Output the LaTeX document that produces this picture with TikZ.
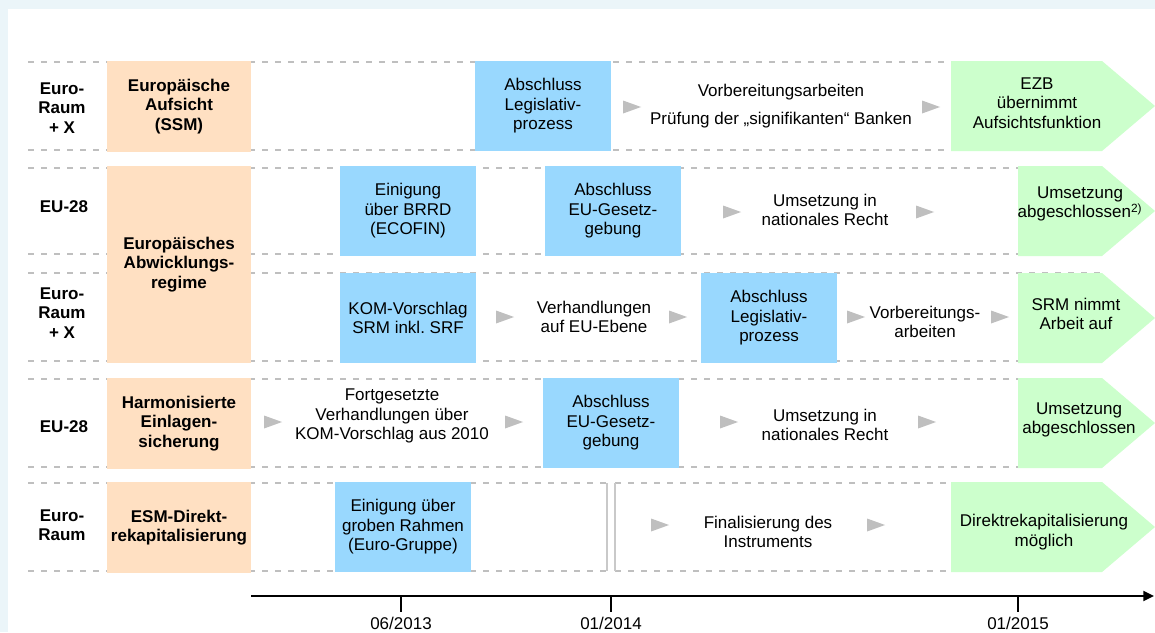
\documentclass[tikz,border=0pt]{standalone}
\usepackage{fontspec}
\setmainfont{Liberation Sans}
\usepackage{tikz}
\usepackage{xcolor}
\usetikzlibrary{positioning, arrows.meta, calc}
\definecolor{mGray}{HTML}{BFBFBF}
\definecolor{mOrange}{HTML}{FFE0C2}
\definecolor{mBlue}{HTML}{99D8FE}
\definecolor{mGreen}{HTML}{CCFFCC}
\definecolor{mFrame}{HTML}{EBF5F9}
\frenchspacing

\begin{document}
\begin{tikzpicture}[x=0.75pt, y=-0.75pt,
    every node/.style={font=\fontsize{12.75}{14.6}\selectfont, align=center, inner sep=0pt},
    rowlbl/.style={font=\fontsize{12.75}{14.6}\selectfont\bfseries},
    topic/.style={fill=mOrange, minimum width=108pt, font=\fontsize{12.75}{14.6}\selectfont\bfseries},
    milestone/.style={fill=mBlue, minimum width=102pt, minimum height=67.5pt},
    rowsep/.style={mGray, line width=1.5pt, dash pattern=on 4.5pt off 5.25pt},
    goal/.style={fill=mGreen}]
    \fill[mFrame] (0,0) rectangle (1155,632);
    \fill[white] (8,9) rectangle (1155,632);
    \useasboundingbox (0,0) rectangle (1155,632);

    \foreach \y in {62,150,168,254,273,361,379,467}
      \draw[rowsep] (28,\y) -- (1102,\y);
    \foreach \y in {483,571} {
      \draw[rowsep] (28,\y) -- (607,\y);
      \draw[rowsep] (615,\y) -- (960,\y);
    }
    \draw[mGray!85, line width=1.2pt] (607,483) -- (607,571);
    \draw[mGray!85, line width=1.2pt] (615,483) -- (615,571);

    \foreach \x/\yt/\yb in {951/61/151, 1018/166/256, 1018/273/363, 1018/378/468, 951/482/572}
      \fill[goal] (\x,\yt) -- (1102,\yt) -- (1155,{(\yt+\yb)/2}) -- (1102,\yb) -- (\x,\yb) -- cycle;

    \node[rowlbl] (r1) at (62,108) {Euro-\\Raum\\+ X};
    \node[rowlbl] (r2) at (64,207) {EU-28};
    \node[rowlbl] (r3) at (62,313) {Euro-\\Raum\\+ X};
    \node[rowlbl] (r4) at (64,427) {EU-28};
    \node[rowlbl] (r5) at (62,525) {Euro-\\Raum};

    \node[topic, minimum height=68.25pt] (ssm) at (179,106.5) {Europäische\\Aufsicht\\(SSM)};
    \node[topic, minimum height=147.75pt] (srm) at (179,264.5) {Europäisches\\Abwicklungs-\\regime};
    \node[topic, minimum height=68.25pt] (dgs) at (179,423.5) {Harmonisierte\\Einlagen-\\sicherung};
    \node[topic, minimum height=68.25pt] (esm) at (179,527.5) {ESM-Direkt-\\rekapitalisierung};

    \node[milestone] (ssmLeg) at (543,106) {Abschluss\\Legislativ-\\prozess};
    \node[milestone] (brrd) at (408,211) {Einigung\\über BRRD\\(ECOFIN)};
    \node[milestone] (brrdEU) at (613,211) {Abschluss\\EU-Gesetz-\\gebung};
    \node[milestone] (kom) at (408,318) {KOM-Vorschlag\\SRM inkl. SRF};
    \node[milestone] (srmLeg) at (769,318) {Abschluss\\Legislativ-\\prozess};
    \node[milestone] (dgsEU) at (611,423) {Abschluss\\EU-Gesetz-\\gebung};
    \node[milestone] (esmFrame) at (403,527) {Einigung über\\groben Rahmen\\(Euro-Gruppe)};

    \node (ssmPrep) at (781,106) {Vorbereitungsarbeiten\\[6.4pt]Prüfung der „signifikanten“ Banken};
    \node (brrdNat) at (825,210) {Umsetzung in\\nationales Recht};
    \node (srmNeg) at (594,317) {Verhandlungen\\auf EU-Ebene};
    \node (srmPrep) at (925,322) {Vorbereitungs-\\arbeiten};
    \node (dgsNeg) at (392,416) {Fortgesetzte\\Verhandlungen über\\KOM-Vorschlag aus 2010};
    \node (dgsNat) at (825,425) {Umsetzung in\\nationales Recht};
    \node (esmFin) at (768,532) {Finalisierung des\\Instruments};

    \node (ezb) at (1037,103) {EZB\\übernimmt\\Aufsichtsfunktion};
    \node (brrdDone) at (1080,204) {Umsetzung\\abgeschlossen\textsuperscript{2)}};
    \node (srmWork) at (1076,314) {SRM nimmt\\Arbeit auf};
    \node (dgsDone) at (1079,420) {Umsetzung\\abgeschlossen};
    \node (esmOk) at (1044,532) {Direktrekapitalisierung\\möglich};

    \foreach \x/\y in {632/107, 931/107, 732/212, 925/212, 505/317, 678/317, 856/317, 1000/317,
                       273/422, 514/422, 729/422, 927/422, 660/525, 876/525}
      \fill[mGray] (\x-9,\y-6.5) -- (\x+9,\y) -- (\x-9,\y+6.5) -- cycle;

    \coordinate (axStart) at (251,596);
    \coordinate (axEnd) at (1154,596);
    \draw[line width=1.5pt, -{Triangle[length=8pt, width=7.5pt]}] (axStart) -- (axEnd);
    \draw[line width=1.5pt] (401,596) -- (401,612);
    \draw[line width=1.5pt] (611,596) -- (611,612);
    \draw[line width=1.5pt] (1018,596) -- (1018,612);
    \node (d1306) at (401,623) {06/2013};
    \node (d1401) at (611,623) {01/2014};
    \node (d1501) at (1018,623) {01/2015};
\end{tikzpicture}
\end{document}
